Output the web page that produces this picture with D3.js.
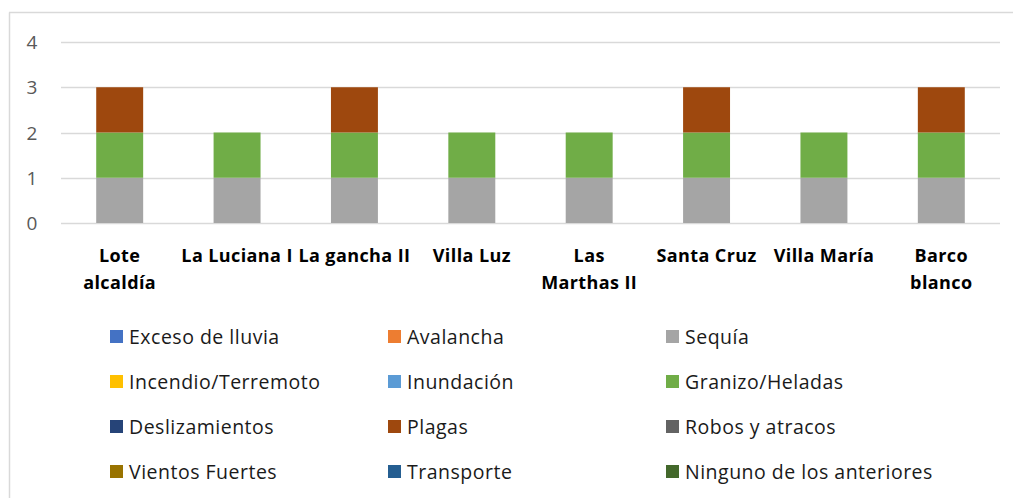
<!DOCTYPE html>
<html>
<head>
<meta charset="utf-8">
<script src="https://cdn.jsdelivr.net/npm/d3@7"></script>
<style>
  body { margin: 0; background: #fff; }
  svg { display: block; font-family: "Open Sans", Lato, sans-serif; }
</style>
</head>
<body>
<svg id="chart" width="1013" height="498"></svg>
<script>
// datos del gráfico
const categories = ["Lote alcaldía", "La Luciana I", "La gancha II", "Villa Luz",
  "Las Marthas II", "Santa Cruz", "Villa María", "Barco blanco"];

const seriesNames = ["Exceso de lluvia", "Avalancha", "Sequía", "Incendio/Terremoto",
  "Inundación", "Granizo/Heladas", "Deslizamientos", "Plagas", "Robos y atracos",
  "Vientos Fuertes", "Transporte", "Ninguno de los anteriores"];

const seriesColors = ["#4472C4", "#ED7D31", "#A5A5A5", "#FFC000", "#5B9BD5", "#70AD47",
  "#264478", "#9E480E", "#636363", "#997300", "#255E91", "#43682B"];

const excesoLluvia = [0, 0, 0, 0, 0, 0, 0, 0];
const avalancha    = [0, 0, 0, 0, 0, 0, 0, 0];
const sequia       = [1, 1, 1, 1, 1, 1, 1, 1];
const incendio     = [0, 0, 0, 0, 0, 0, 0, 0];
const inundacion   = [0, 0, 0, 0, 0, 0, 0, 0];
const granizo      = [1, 1, 1, 1, 1, 1, 1, 1];
const deslizam     = [0, 0, 0, 0, 0, 0, 0, 0];
const plagas       = [1, 0, 1, 0, 0, 1, 0, 1];
const robos        = [0, 0, 0, 0, 0, 0, 0, 0];
const vientos      = [0, 0, 0, 0, 0, 0, 0, 0];
const transporte   = [0, 0, 0, 0, 0, 0, 0, 0];
const ninguno      = [0, 0, 0, 0, 0, 0, 0, 0];

const seriesValues = [excesoLluvia, avalancha, sequia, incendio, inundacion, granizo,
  deslizam, plagas, robos, vientos, transporte, ninguno];

const yTicks = [0, 1, 2, 3, 4];

// tabla para d3.stack
const table = categories.map((c, i) => {
  const row = { cat: c };
  seriesNames.forEach((s, j) => { row[s] = seriesValues[j][i]; });
  return row;
});

const svg = d3.select("#chart");

// marco
svg.append("line").attr("x1", 9.5).attr("x2", 9.5).attr("y1", 12.5).attr("y2", 498)
  .attr("stroke", "#d9d9d9").attr("stroke-width", 1.5);
svg.append("line").attr("x1", 9).attr("x2", 1013).attr("y1", 12.5).attr("y2", 12.5)
  .attr("stroke", "#d9d9d9").attr("stroke-width", 1.5);

const x = d3.scaleBand().domain(categories).range([61, 1000]).paddingInner(0.6).paddingOuter(0.3);
const y = d3.scaleLinear().domain([0, 4]).range([223, 42]);

// líneas de cuadrícula
svg.append("g").selectAll("line").data(yTicks).join("line")
  .attr("x1", 61).attr("x2", 1000)
  .attr("y1", d => Math.round(y(d)) + 0.5).attr("y2", d => Math.round(y(d)) + 0.5)
  .attr("stroke", "#d9d9d9").attr("stroke-width", 1.3);

// etiquetas eje Y
svg.append("g").selectAll("text").data(yTicks).join("text")
  .attr("x", 32).attr("y", d => y(d) + 7)
  .attr("text-anchor", "middle").attr("font-size", 19).attr("fill", "#595959")
  .text(d => d);

// barras apiladas
const stack = d3.stack().keys(seriesNames)(table);
svg.append("g").selectAll("g").data(stack).join("g")
  .attr("fill", (d, i) => seriesColors[i])
  .selectAll("rect").data(d => d).join("rect")
  .attr("x", d => x(d.data.cat))
  .attr("width", x.bandwidth())
  .attr("y", d => y(d[1]))
  .attr("height", d => y(d[0]) - y(d[1]));

// etiquetas de categoría (con salto de línea)
const labelLines = {
  "Lote alcaldía": ["Lote", "alcaldía"],
  "Las Marthas II": ["Las", "Marthas II"],
  "Barco blanco": ["Barco", "blanco"]
};
svg.append("g").selectAll("text").data(categories).join("text")
  .attr("text-anchor", "middle").attr("font-size", 18).attr("font-weight", "bold")
  .attr("letter-spacing", 0.4).attr("fill", "#000")
  .each(function (c) {
    const lines = labelLines[c] || [c];
    const cx = x(c) + x.bandwidth() / 2;
    d3.select(this).selectAll("tspan").data(lines).join("tspan")
      .attr("x", cx).attr("y", (d, i) => 262 + i * 27).text(d => d);
  });

// leyenda
const legendCols = [110, 388, 666];
const legendRows = [337, 382, 427, 472];
const legend = svg.append("g").selectAll("g").data(seriesNames).join("g")
  .attr("transform", (d, i) => `translate(${legendCols[i % 3]},${legendRows[Math.floor(i / 3)]})`);
legend.append("rect").attr("x", 0).attr("y", -7).attr("width", 13).attr("height", 13)
  .attr("fill", (d, i) => seriesColors[i]);
legend.append("text").attr("x", 19).attr("y", 7)
  .attr("font-size", 19.5).attr("letter-spacing", 0.5).attr("fill", "#1a1a1a").text(d => d);
</script>
</body>
</html>
